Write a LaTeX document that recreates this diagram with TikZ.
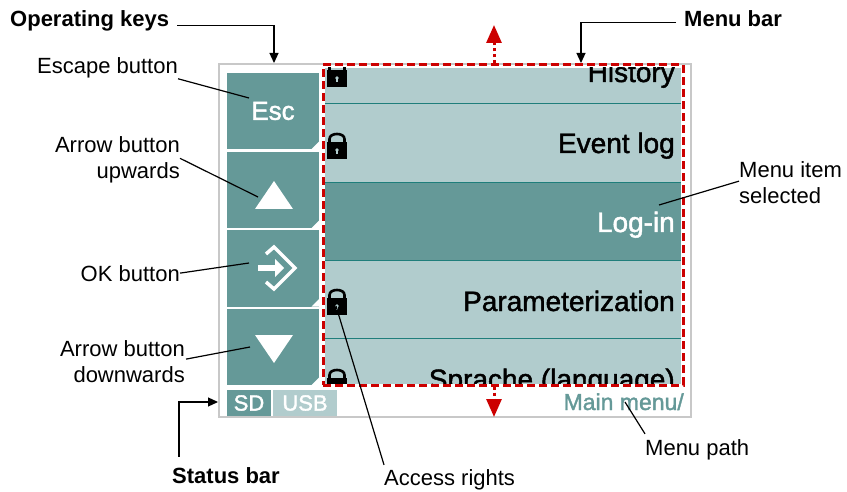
\documentclass[tikz,border=0pt]{standalone}
\usepackage{fontspec}
\setmainfont{Liberation Sans}
\newfontfamily\screenfont[FakeBold=1.6]{Liberation Sans}
\usepackage{tikz}
\usetikzlibrary{arrows.meta,positioning}

\definecolor{btnteal}{HTML}{659998}
\definecolor{rowteal}{HTML}{B1CCCD}
\definecolor{lineteal}{HTML}{1F7E7B}
\definecolor{menured}{HTML}{CC0000}
\definecolor{framegray}{HTML}{C8C8C8}

\begin{document}
\begin{tikzpicture}[
    x=1pt, y=-1pt,
    label/.style={inner sep=0pt, font=\fontsize{22}{26}\selectfont},
    boldlabel/.style={label, font=\fontsize{22}{26}\selectfont\bfseries},
    button/.style={rectangle, fill=btnteal, minimum width=92pt, minimum height=76pt, inner sep=0pt, text=white,
        font=\screenfont\fontsize{26}{30}\selectfont,
        path picture={\fill[white] (path picture bounding box.south east) -- ++(-7.5,0) -- ++(7.5,-7.5) -- cycle;}},
    row/.style={rectangle, fill=rowteal, minimum width=356pt, inner sep=0pt},
    rowtext/.style={anchor=base east, inner sep=0pt, font=\screenfont\fontsize{28}{32}\selectfont},
    badge/.style={rectangle, minimum height=26pt, inner sep=0pt, text=white, font=\screenfont\fontsize{22}{26}\selectfont},
    divider/.style={lineteal, line width=1.2pt},
    arrow/.style={-{Triangle[length=10pt,width=9pt]}, black, line width=1.2pt},
    leader/.style={black, line width=1.2pt},
    redarrow/.style={-{Triangle[length=18pt,width=15pt]}, menured, line width=3pt, dash pattern=on 3pt off 3pt},
    pics/padlock/.style={code={
        \draw[black, line width=2.6pt] (-7.5,1) -- (-7.5,-3) .. controls (-7.5,-9.7) and (7.5,-9.7) .. (7.5,-3) -- (7.5,1);
        \fill[black] (-10,0) rectangle (10,17);
        \fill[rowteal] (0,8) circle (1.8pt);
        \fill[rowteal] (-0.7,8) rectangle (0.7,12);
    }}
]
\useasboundingbox (0,0) rectangle (847,492);

% Screen
\node[draw=framegray, line width=1.5pt, minimum width=472pt, minimum height=353pt, inner sep=0pt] (screen) at (455,240.5) {};

% Keys
\node[button] (esc) at (273,111) {\raisebox{-1.5pt}{Esc}};
\node[button] (up) at (273,190) {};
\node[button] (ok) at (273,268.5) {};
\node[button] (down) at (273,347) {};
\fill[white] (274,181) -- (293,209) -- (255,209) -- cycle;
\fill[white] (274,363) -- (293,335) -- (255,335) -- cycle;
\draw[white, line width=3.5pt] (266,254) -- (274,247) -- (295,268) -- (274,289) -- (266,282);
\draw[white, line width=6pt] (258,268) -- (277,268);
\fill[white] (275,259) -- (284,268) -- (275,277) -- cycle;

% Menu rows
\begin{scope}
\clip (325,68) rectangle (681,383);
\node[row, minimum height=35pt, anchor=north] (row1) at (503,68) {};
\node[row, minimum height=78pt, anchor=north] (row2) at (503,104) {};
\node[row, minimum height=78pt, anchor=north, fill=btnteal] (row3) at (503,182) {};
\node[row, minimum height=78pt, anchor=north] (row4) at (503,260) {};
\node[row, minimum height=45pt, anchor=north] (row5) at (503,339) {};
\draw[divider] (row1.south west) -- (row1.south east);
\draw[divider] (row2.south west) -- (row2.south east);
\draw[divider] (row3.south west) -- (row3.south east);
\draw[divider] (row4.south west) -- (row4.south east);
\node[rowtext] (history) at (675,82) {History};
\node[rowtext] (eventlog) at (675,153) {Event log};
\node[rowtext, text=white] (login) at (675,232) {Log-in};
\node[rowtext] (param) at (675,311) {Parameterization};
\node[rowtext] (sprache) at (675,389) {Sprache (language)};
\pic at (337,70) {padlock};
\pic at (337,142) {padlock};
\pic at (337,298) {padlock};
\pic at (337,378) {padlock};
\end{scope}

% Status bar
\node[badge, fill=btnteal, minimum width=44pt] (sd) at (249,403) {SD};
\node[badge, fill=rowteal, minimum width=64pt] (usb) at (305,403) {USB};
\node[anchor=base east, inner sep=0pt, text=btnteal, font=\screenfont\fontsize{23}{27}\selectfont] (path) at (684,410) {Main menu/};

% Menu bar frame
\node[draw=menured, line width=3pt, dash pattern=on 8pt off 4pt, minimum width=360pt, minimum height=320pt, inner sep=0pt] (menubar) at (503,225) {};
\coordinate (uptip) at (494,25);
\coordinate (downtip) at (494,417);
\draw[redarrow] ([xshift=-9pt]menubar.north) -- (uptip);
\draw[redarrow] ([xshift=-9pt]menubar.south) -- (downtip);

% Labels
\node[boldlabel, anchor=base west] (opkeys) at (10,27) {Operating keys};
\node[boldlabel, anchor=base west] (menulabel) at (684,27) {Menu bar};
\node[boldlabel, anchor=base west] (statuslabel) at (172,483) {Status bar};
\node[label, anchor=base east] (esclabel) at (178,74) {Escape button};
\node[label, align=right, anchor=base east] (uplabel) at (180,179) {Arrow button\\upwards};
\node[label, anchor=base east] (oklabel) at (180,281) {OK button};
\node[label, align=right, anchor=base east] (downlabel) at (185,382) {Arrow button\\downwards};
\node[label, align=left, anchor=base west] (selectedlabel) at (739,204) {Menu item\\selected};
\node[label, anchor=base west] (pathlabel) at (645,455) {Menu path};
\node[label, anchor=base west] (rightslabel) at (384,485) {Access rights};

% Leader ends
\coordinate (opkeystip) at (274,63);
\coordinate (menutip) at (581,63);
\coordinate (statustip) at (218,402);
\coordinate (esctip) at (249,98);
\coordinate (uptri) at (258,197);
\coordinate (okicon) at (249,263);
\coordinate (downtri) at (250,347);
\coordinate (selectedtip) at (659,205);
\coordinate (pathtip) at (625,402);
\coordinate (rightstip) at (336,306);

% Arrows
\draw[arrow] ([xshift=8pt,yshift=-4pt]opkeys.east) -| (opkeystip);
\draw[arrow] ([xshift=-8pt,yshift=-3pt]menulabel.west) -| (menutip);
\draw[arrow] ([xshift=7pt,yshift=10pt]statuslabel.north west) |- (statustip);
\draw[leader] (esclabel.south east) -- (esctip);
\draw[leader] ([yshift=2pt]uplabel.east) -- (uptri);
\draw[leader] (oklabel.east) -- (okicon);
\draw[leader] ([xshift=1pt,yshift=2pt]downlabel.east) -- (downtri);
\draw[leader] ([yshift=2pt]selectedlabel.west) -- (selectedtip);
\draw[leader] ([yshift=5pt]pathlabel.north west) -- (pathtip);
\draw[leader] ([yshift=4pt]rightslabel.north west) -- (rightstip);

\end{tikzpicture}
\end{document}
